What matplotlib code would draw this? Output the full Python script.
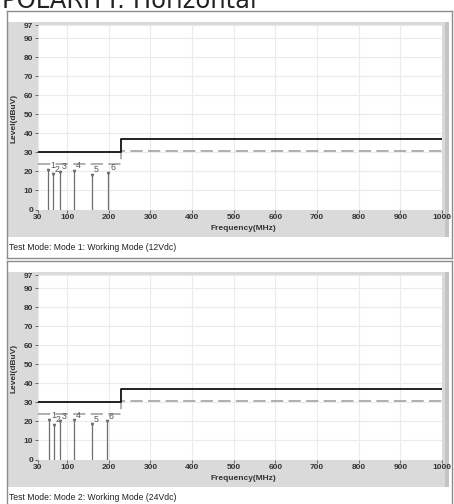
import matplotlib
matplotlib.use('Agg')
import matplotlib.pyplot as plt
from matplotlib.patches import Rectangle
from matplotlib.lines import Line2D

W, H = 454, 504

# limit and margin lines (step at 230 MHz)
limit_freq = [30, 230, 230, 1000]
limit_level = [30, 30, 37, 37]
margin_level = [24, 24, 31, 31]

# peaks for the two test modes
peak_labels = ['1', '2', '3', '4', '5', '6']
mode1_freq = [55, 67, 83, 116, 160, 199]
mode1_level = [20.7, 18.6, 19.9, 20.3, 18.2, 19.4]
mode2_freq = [57, 69, 83, 116, 160, 195]
mode2_level = [20.6, 18.2, 20.1, 20.6, 18.6, 20.1]

modes = ['Test Mode: Mode 1: Working Mode (12Vdc)',
         'Test Mode: Mode 2: Working Mode (24Vdc)']

xticks = [30, 100, 200, 300, 400, 500, 600, 700, 800, 900, 1000]
yticks = [0, 10, 20, 30, 40, 50, 60, 70, 80, 90, 97]

fig = plt.figure(figsize=(W / 100, H / 100), dpi=100)
fig.patch.set_facecolor('white')


def frac(x, y, w, h):
    # pixel box (top-left origin) -> figure fraction rect
    return [x / W, 1 - (y + h) / H, w / W, h / H]


def rect(x, y, w, h, **kw):
    r = frac(x, y, w, h)
    fig.patches.append(Rectangle((r[0], r[1]), r[2], r[3], zorder=-5,
                                 transform=fig.transFigure, **kw))


def hline(y, x0, x1, color='#8c8c8c', lw=1.0):
    fig.lines.append(Line2D([x0 / W, x1 / W], [1 - y / H, 1 - y / H], zorder=-4,
                            transform=fig.transFigure, color=color, lw=lw))


def vline(x, y0, y1, color='#8c8c8c', lw=1.0):
    fig.lines.append(Line2D([x / W, x / W], [1 - y0 / H, 1 - y1 / H], zorder=-4,
                            transform=fig.transFigure, color=color, lw=lw))


# heading is clipped at the top edge, as in the source page
fig.text(2 / W, 1 - 7.5 / H, 'POLARITY: Horizontal', fontsize=17.5,
         color='#222222', va='baseline', ha='left', family='DejaVu Sans')

panels = [(mode1_freq, mode1_level), (mode2_freq, mode2_level)]

for i, (freq, level) in enumerate(panels):
    off = i * 250
    # gray chart background
    rect(8, 22 + off, 441, 215, facecolor='#dadada', edgecolor='none')
    rect(445, 22 + off, 4, 215, facecolor='#c4c4c4', edgecolor='none')
    # frame
    top = 11 + off
    bottom = 258 + off if i == 0 else H + 5
    hline(top, 7, 452)
    vline(7, top, bottom)
    vline(452, top, bottom)
    if i == 0:
        hline(bottom, 7, 452)

    ax = fig.add_axes(frac(38, 25 + off, 404, 184 + 0.5))
    ax.set_facecolor('white')
    ax.set_xlim(30, 1000)
    ax.set_ylim(0, 97)
    ax.set_xticks(xticks)
    ax.set_yticks(yticks)
    ax.grid(True, color='#ebebeb', lw=0.8)
    ax.set_axisbelow(True)
    for s in ax.spines.values():
        s.set_visible(False)
    ax.tick_params(length=2, width=0.6, color='#555555', pad=1.5,
                   labelsize=6, labelcolor='#333333')
    for lab in ax.get_xticklabels() + ax.get_yticklabels():
        lab.set_fontweight('bold')
        lab.set_family('Liberation Sans')

    ax.plot(limit_freq, limit_level, color='#111111', lw=1.3, zorder=4)
    mline, = ax.plot(limit_freq, margin_level, color='#9a9a9a', lw=1.1, zorder=3)
    mline.set_dashes((8, 3.5))

    ax.vlines(freq, 0, level, color='#6e6e6e', lw=0.9, zorder=5)
    ax.plot(freq, level, ls='none', marker='v', ms=1.6, color='#6e6e6e', zorder=5)
    for f, v, t in zip(freq, level, peak_labels):
        ax.annotate(t, (f, v), xytext=(1.2, 0.3), textcoords='offset points',
                    fontsize=6.3, color='#555555', family='Liberation Sans',
                    ha='left', va='bottom')

    fig.text(243 / W, 1 - (228 + off) / H, 'Frequency(MHz)', fontsize=6,
             fontweight='bold', color='#333333', ha='center', va='center',
             family='Liberation Sans')
    fig.text(14 / W, 1 - (118 + off) / H, 'Level(dBuV)', fontsize=6,
             fontweight='bold', color='#333333', ha='center', va='center',
             rotation=90, family='Liberation Sans')
    fig.text(9 / W, 1 - (248 + off) / H, modes[i], fontsize=6.2,
             color='#222222', ha='left', va='center', family='Liberation Sans')

fig.savefig('out.png', dpi=100)
